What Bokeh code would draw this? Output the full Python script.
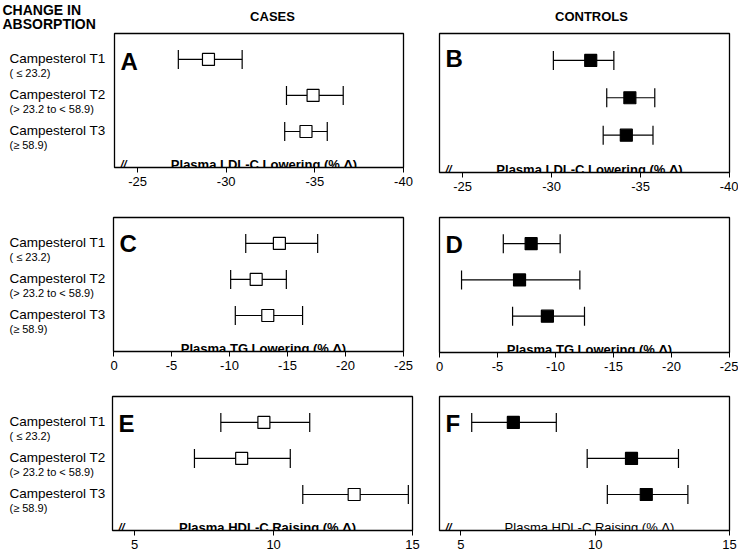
from bokeh.plotting import figure
from bokeh.models import ColumnDataSource, Whisker, TeeHead, Label, Range1d, FixedTicker
from bokeh.layouts import column, row
from bokeh.core.properties import value
from bokeh.embed import file_html
from bokeh.resources import INLINE

# ---------------- data ----------------
groups = ["Campesterol T1", "Campesterol T2", "Campesterol T3"]
group_ranges = ["( \u2264 23.2)", "(> 23.2 to < 58.9)", "(\u2265 58.9)"]

ldl_cases_est = [-29.0, -34.9, -34.5]
ldl_cases_lo = [-27.3, -33.4, -33.3]
ldl_cases_hi = [-30.9, -36.6, -35.7]
ldl_ctrl_est = [-32.2, -34.4, -34.2]
ldl_ctrl_lo = [-30.1, -33.1, -32.9]
ldl_ctrl_hi = [-33.5, -35.8, -35.7]

tg_cases_est = [-14.3, -12.3, -13.3]
tg_cases_lo = [-11.4, -10.1, -10.5]
tg_cases_hi = [-17.6, -14.9, -16.3]
tg_ctrl_est = [-7.9, -6.9, -9.3]
tg_ctrl_lo = [-5.5, -1.9, -6.3]
tg_ctrl_hi = [-10.4, -12.1, -12.5]

hdl_cases_est = [9.65, 8.85, 12.9]
hdl_cases_lo = [8.1, 7.15, 11.05]
hdl_cases_hi = [11.3, 10.6, 14.85]
hdl_ctrl_est = [6.95, 11.35, 11.9]
hdl_ctrl_lo = [5.4, 9.7, 10.45]
hdl_ctrl_hi = [8.55, 13.1, 13.45]

ldl_ticks = [-25, -30, -35, -40]
tg_ticks = [0, -5, -10, -15, -20, -25]
hdl_ticks = [5, 10, 15]

ldl_title = "Plasma LDL-C Lowering (% \u0394)"
tg_title = "Plasma TG Lowering (% \u0394)"
hdl_title = "Plasma HDL-C Raising (% \u0394)"
col_headers = ["CASES", "CONTROLS"]
row_header = ["CHANGE IN", "ABSORPTION"]

FONT = "Liberation Sans"
Y_BOTTOM, Y_TOP = 4.0, 0.28
FRAME_H = 134
PPU = FRAME_H / (Y_BOTTOM - Y_TOP)

LEFT_W = 110
HEAD_H = 28
ROW_H = [164, 184, 184]
TOTAL_W = 738


def text_fig(w, h):
    p = figure(frame_width=w, frame_height=h, x_range=Range1d(0, w), y_range=Range1d(h, 0),
               output_backend="svg", toolbar_location=None,
               x_axis_location=None, y_axis_location=None,
               min_border_left=0, min_border_right=0, min_border_top=0, min_border_bottom=0)
    p.grid.visible = False
    p.outline_line_color = None
    p.background_fill_color = "white"
    p.border_fill_color = "white"
    return p


def panel(est, lo, hi, xr, ticks, filled, letter, title, left, top, fw, fh, right, bottom,
          brk=True, title_bold=True, letter_dy=-27):
    p = figure(frame_width=fw, frame_height=fh,
               x_range=Range1d(*xr), y_range=Range1d(Y_BOTTOM, Y_TOP),
               output_backend="svg", toolbar_location=None, y_axis_location=None,
               min_border_left=left, min_border_right=right,
               min_border_top=top, min_border_bottom=bottom)
    p.grid.visible = False
    p.outline_line_color = "black"
    p.outline_line_width = 1.3
    p.background_fill_color = "white"
    p.border_fill_color = "white"

    ax = p.xaxis[0]
    ax.ticker = FixedTicker(ticks=ticks)
    ax.major_label_overrides = {t: str(t) for t in ticks}
    ax.axis_line_color = None
    ax.major_tick_in = 0
    ax.major_tick_out = 5
    ax.major_tick_line_color = "black"
    ax.minor_tick_line_color = None
    ax.major_label_standoff = 4
    ax.major_label_text_font = FONT
    ax.major_label_text_font_size = "13px"
    ax.major_label_text_color = "black"

    ys = [i + 1 for i in range(len(est))]
    src = ColumnDataSource(dict(y=ys, est=est, lo=lo, hi=hi))
    w = Whisker(base="y", lower="lo", upper="hi", dimension="width", source=src,
                line_color="black", line_width=1.2, level="underlay",
                lower_head=TeeHead(size=19, line_color="black", line_width=1.2),
                upper_head=TeeHead(size=19, line_color="black", line_width=1.2))
    p.add_layout(w)
    p.scatter(x="est", y="y", source=src, marker="square", size=12,
              fill_color="black" if filled else "white", line_color="black", line_width=1.2)

    p.add_layout(Label(x=xr[0], y=Y_TOP, x_offset=6, y_offset=letter_dy, text=letter,
                       text_font=FONT, text_font_style="bold", text_font_size="24px",
                       text_baseline="alphabetic", text_align="left", text_color="black"))
    p.add_layout(Label(x=(xr[0] + xr[1]) / 2, y=Y_BOTTOM, x_offset=5, y_offset=3, text=title,
                       text_font=FONT, text_font_style="bold" if title_bold else "normal",
                       text_font_size="13px", text_baseline="alphabetic", text_align="center",
                       text_color="black"))
    if brk:
        p.add_layout(Label(x=xr[0], y=Y_BOTTOM, x_offset=9, y_offset=4, text="//",
                           text_font=FONT, text_font_style="bold italic", text_font_size="11px",
                           text_baseline="middle", text_align="center", text_color="black"))
    return p


ldl_xr = (-23.7, -40)
tg_xr = (0, -25)
hdl_xr = (4.2, 15)

# left panels are 310 wide, right panels 318 wide
pA = panel(ldl_cases_est, ldl_cases_lo, ldl_cases_hi, ldl_xr, ldl_ticks, False, "A", ldl_title,
           left=4, top=5, fw=289, fh=134, right=17, bottom=25, letter_dy=-28)
pB = panel(ldl_ctrl_est, ldl_ctrl_lo, ldl_ctrl_hi, ldl_xr, ldl_ticks, True, "B", ldl_title,
           left=19, top=0, fw=290, fh=139, right=9, bottom=25, letter_dy=-25)
pC = panel(tg_cases_est, tg_cases_lo, tg_cases_hi, tg_xr, tg_ticks, False, "C", tg_title,
           left=3, top=25, fw=290, fh=134, right=17, bottom=25, brk=False, letter_dy=-26)
pD = panel(tg_ctrl_est, tg_ctrl_lo, tg_ctrl_hi, tg_xr, tg_ticks, True, "D", tg_title,
           left=19, top=24, fw=290, fh=135, right=9, bottom=25, brk=False)
pE = panel(hdl_cases_est, hdl_cases_lo, hdl_cases_hi, hdl_xr, hdl_ticks, False, "E", hdl_title,
           left=2, top=20, fw=300, fh=134, right=8, bottom=30)
pF = panel(hdl_ctrl_est, hdl_ctrl_lo, hdl_ctrl_hi, hdl_xr, hdl_ticks, True, "F", hdl_title,
           left=19, top=20, fw=290, fh=134, right=9, bottom=30, title_bold=False)

# header strip above the panels
head = text_fig(TOTAL_W - LEFT_W, HEAD_H)
head.text(x=[162, 481], y=[8, 8], text=col_headers, text_font=value(FONT),
          text_font_style="bold", text_font_size="13px", text_align="center",
          text_baseline="top", text_color="black")

# left label column (pixel coordinates), rows aligned with the panels' y scales
TOTAL_H = HEAD_H + sum(ROW_H)
side = text_fig(LEFT_W, TOTAL_H)
side.text(x=[2, 2], y=[1, 15], text=row_header, text_font=value(FONT),
          text_font_style="bold", text_font_size="14px", text_align="left",
          text_baseline="top", text_color="black")
frame_tops = [HEAD_H + 5, HEAD_H + ROW_H[0] + 25, HEAD_H + ROW_H[0] + ROW_H[1] + 20]
main_y, sub_y, main_t, sub_t = [], [], [], []
for ft in frame_tops:
    for i, (g, r) in enumerate(zip(groups, group_ranges)):
        yc = ft + (i + 1 - Y_TOP) * PPU
        main_y.append(yc - 1)
        sub_y.append(yc + 14)
        main_t.append(g)
        sub_t.append(r)
side.text(x=[9] * len(main_y), y=main_y, text=main_t, text_font=value(FONT),
          text_font_size="13.5px", text_align="left", text_baseline="middle", text_color="black")
side.text(x=[9] * len(sub_y), y=sub_y, text=sub_t, text_font=value(FONT),
          text_font_size="11px", text_align="left", text_baseline="middle", text_color="black")

right_col = column(head, row(pA, pB, spacing=0), row(pC, pD, spacing=0), row(pE, pF, spacing=0),
                   spacing=0)
layout = row(side, right_col, spacing=0)

open("out.html", "w").write(file_html(layout, INLINE))
